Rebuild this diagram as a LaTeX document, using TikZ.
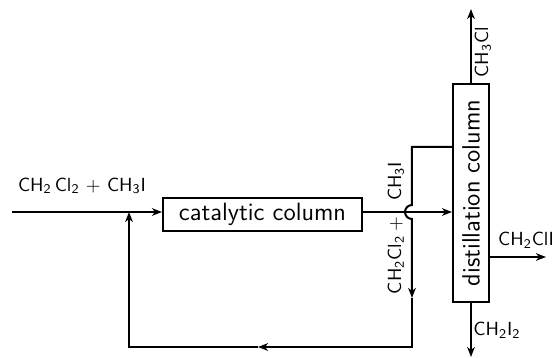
\documentclass[tikz,border=0pt]{standalone}
\usetikzlibrary{arrows.meta}

\tikzset{
  unit/.style={draw, line width=1pt, inner sep=0pt,
    font=\sffamily\fontsize{12.5}{14}\selectfont},
  pipe/.style={line width=1pt},
  flow/.style={pipe, -{Stealth[length=5pt, width=3.8pt, inset=1.5pt]}},
  chem/.style={font=\sffamily\fontsize{9.5}{10}\selectfont, inner sep=1pt},
}

\begin{document}
\begin{tikzpicture}[x=0.5pt, y=-0.5pt]
  \useasboundingbox (0,0) rectangle (554,358);

  % ---- columns ----
  \node[unit, minimum width=99.5pt, minimum height=16.5pt] (cat) at (262.5,214.5) {catalytic column};
  \node[unit, minimum width=18pt, minimum height=109pt] (dist) at (471,193) {};
  \node[unit, draw=none, rotate=90] (distlab) at (dist) {distillation column};

  % ---- points on the lines ----
  \coordinate (feed) at (12,212);
  \coordinate (mix) at (129,212);
  \coordinate (cross) at (412,212);
  \coordinate (reflux) at (412,147);
  \coordinate (drop) at (412,298);
  \coordinate (corner) at (412,347);
  \coordinate (back) at (258,347);
  \coordinate (low) at (129,347);
  \coordinate (lights) at (471,9);
  \coordinate (heavies) at (471,357);
  \coordinate (side) at (546,257);

  % ---- feed and product lines ----
  \draw[flow] (feed) -- (feed -| cat.west);
  \draw[flow] (cat.east |- cross) -- (cross -| dist.west);
  \draw[flow] (dist.north) -- (lights);
  \draw[flow] (dist.south) -- (heavies);
  \draw[flow] (dist.east |- side) -- (side);

  % ---- recycle loop (hops over the main line) ----
  \draw[flow] (dist.west |- reflux) -- (reflux) -- ([yshift=3.5pt]cross)
    arc[start angle=90, end angle=270, radius=3.5pt] -- (drop);
  \draw[flow] (drop) -- (corner) -- (back);
  \draw[flow] (back) -- (low) -- (mix);

  % ---- labels ----
  \node[chem] (feedlab) at (82,186) {CH\textsubscript{2}\,Cl\textsubscript{2} + CH\textsubscript{3}I};
  \node[chem, rotate=90] (recyclelab) at (396,228) {CH\textsubscript{2}Cl\textsubscript{2}\hspace{2pt}+\hspace{8pt}CH\textsubscript{3}I};
  \node[chem, rotate=90] (lightslab) at (483,52) {CH\textsubscript{3}Cl};
  \node[chem] (sidelab) at (526,240) {CH\textsubscript{2}ClI};
  \node[chem] (heavieslab) at (497,330) {CH\textsubscript{2}I\textsubscript{2}};
\end{tikzpicture}
\end{document}
